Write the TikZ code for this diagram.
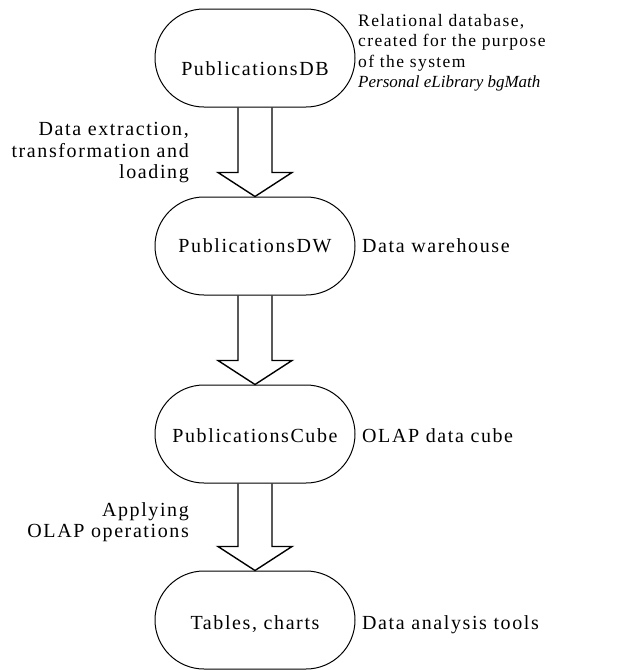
\documentclass[tikz,border=0pt]{standalone}
\usepackage{fontspec}
\setmainfont{Liberation Serif}[LetterSpace=8]
\newfontfamily\itfam{Liberation Serif Italic}
\usetikzlibrary{calc}
\tikzset{
  stadium/.style={draw, line width=1pt, rectangle, rounded corners=49pt, minimum width=200pt, minimum height=98pt, inner sep=0pt},
  ntext/.style={font=\fontsize{20}{24}\selectfont, inner sep=0pt},
  lbl/.style={font=\fontsize{20}{21.5}\selectfont, inner sep=0pt},
  tlbl/.style={font=\fontsize{17.5}{20.5}\selectfont, inner sep=0pt, align=left, anchor=west},
  llbl/.style={font=\fontsize{20}{21.5}\selectfont, inner sep=0pt, align=right, anchor=east},
  fatarrow/.style={draw, line width=1.4pt, line join=miter}
}
\begin{document}
\begin{tikzpicture}[x=1pt, y=-1pt]
\useasboundingbox (0,0) rectangle (621,670);
% nodes
\node[stadium] (db) at (255,58) {};
\node[ntext] (dbt) at (255,69) {PublicationsDB};
\node[stadium] (dw) at (255,246) {};
\node[ntext] (dwt) at (255,246) {PublicationsDW};
\node[stadium] (cube) at (255,434) {};
\node[ntext] (cubet) at (255,436) {PublicationsCube};
\node[stadium] (tab) at (255,620) {};
\node[ntext] (tabt) at (255,624) {Tables, charts};
% right labels
\node[tlbl] (l1) at (358,53) {Relational database,\\created for the purpose\\of the system\\{\itfam\fontsize{17}{20.5}\selectfont Personal eLibrary bgMath}};
\node[lbl, anchor=west] (l2) at (362,246) {Data warehouse};
\node[lbl, anchor=west] (l3) at (362,436) {OLAP data cube};
\node[lbl, anchor=west] (l4) at (362,625) {Data analysis tools};
% left labels
\node[llbl] (e1) at (189,153) {Data extraction,\\transformation and\\loading};
\node[llbl] (e2) at (189,522) {Applying\\OLAP operations};
% arrows
\foreach \a/\b in {db/dw, dw/cube, cube/tab}{
  \draw[fatarrow] ($(\a.south)+(-17,0)$) -- ($(\b.north)+(-17,-24)$) -- ($(\b.north)+(-37,-24)$) -- (\b.north) -- ($(\b.north)+(37,-24)$) -- ($(\b.north)+(17,-24)$) -- ($(\a.south)+(17,0)$);
}
\end{tikzpicture}
\end{document}
